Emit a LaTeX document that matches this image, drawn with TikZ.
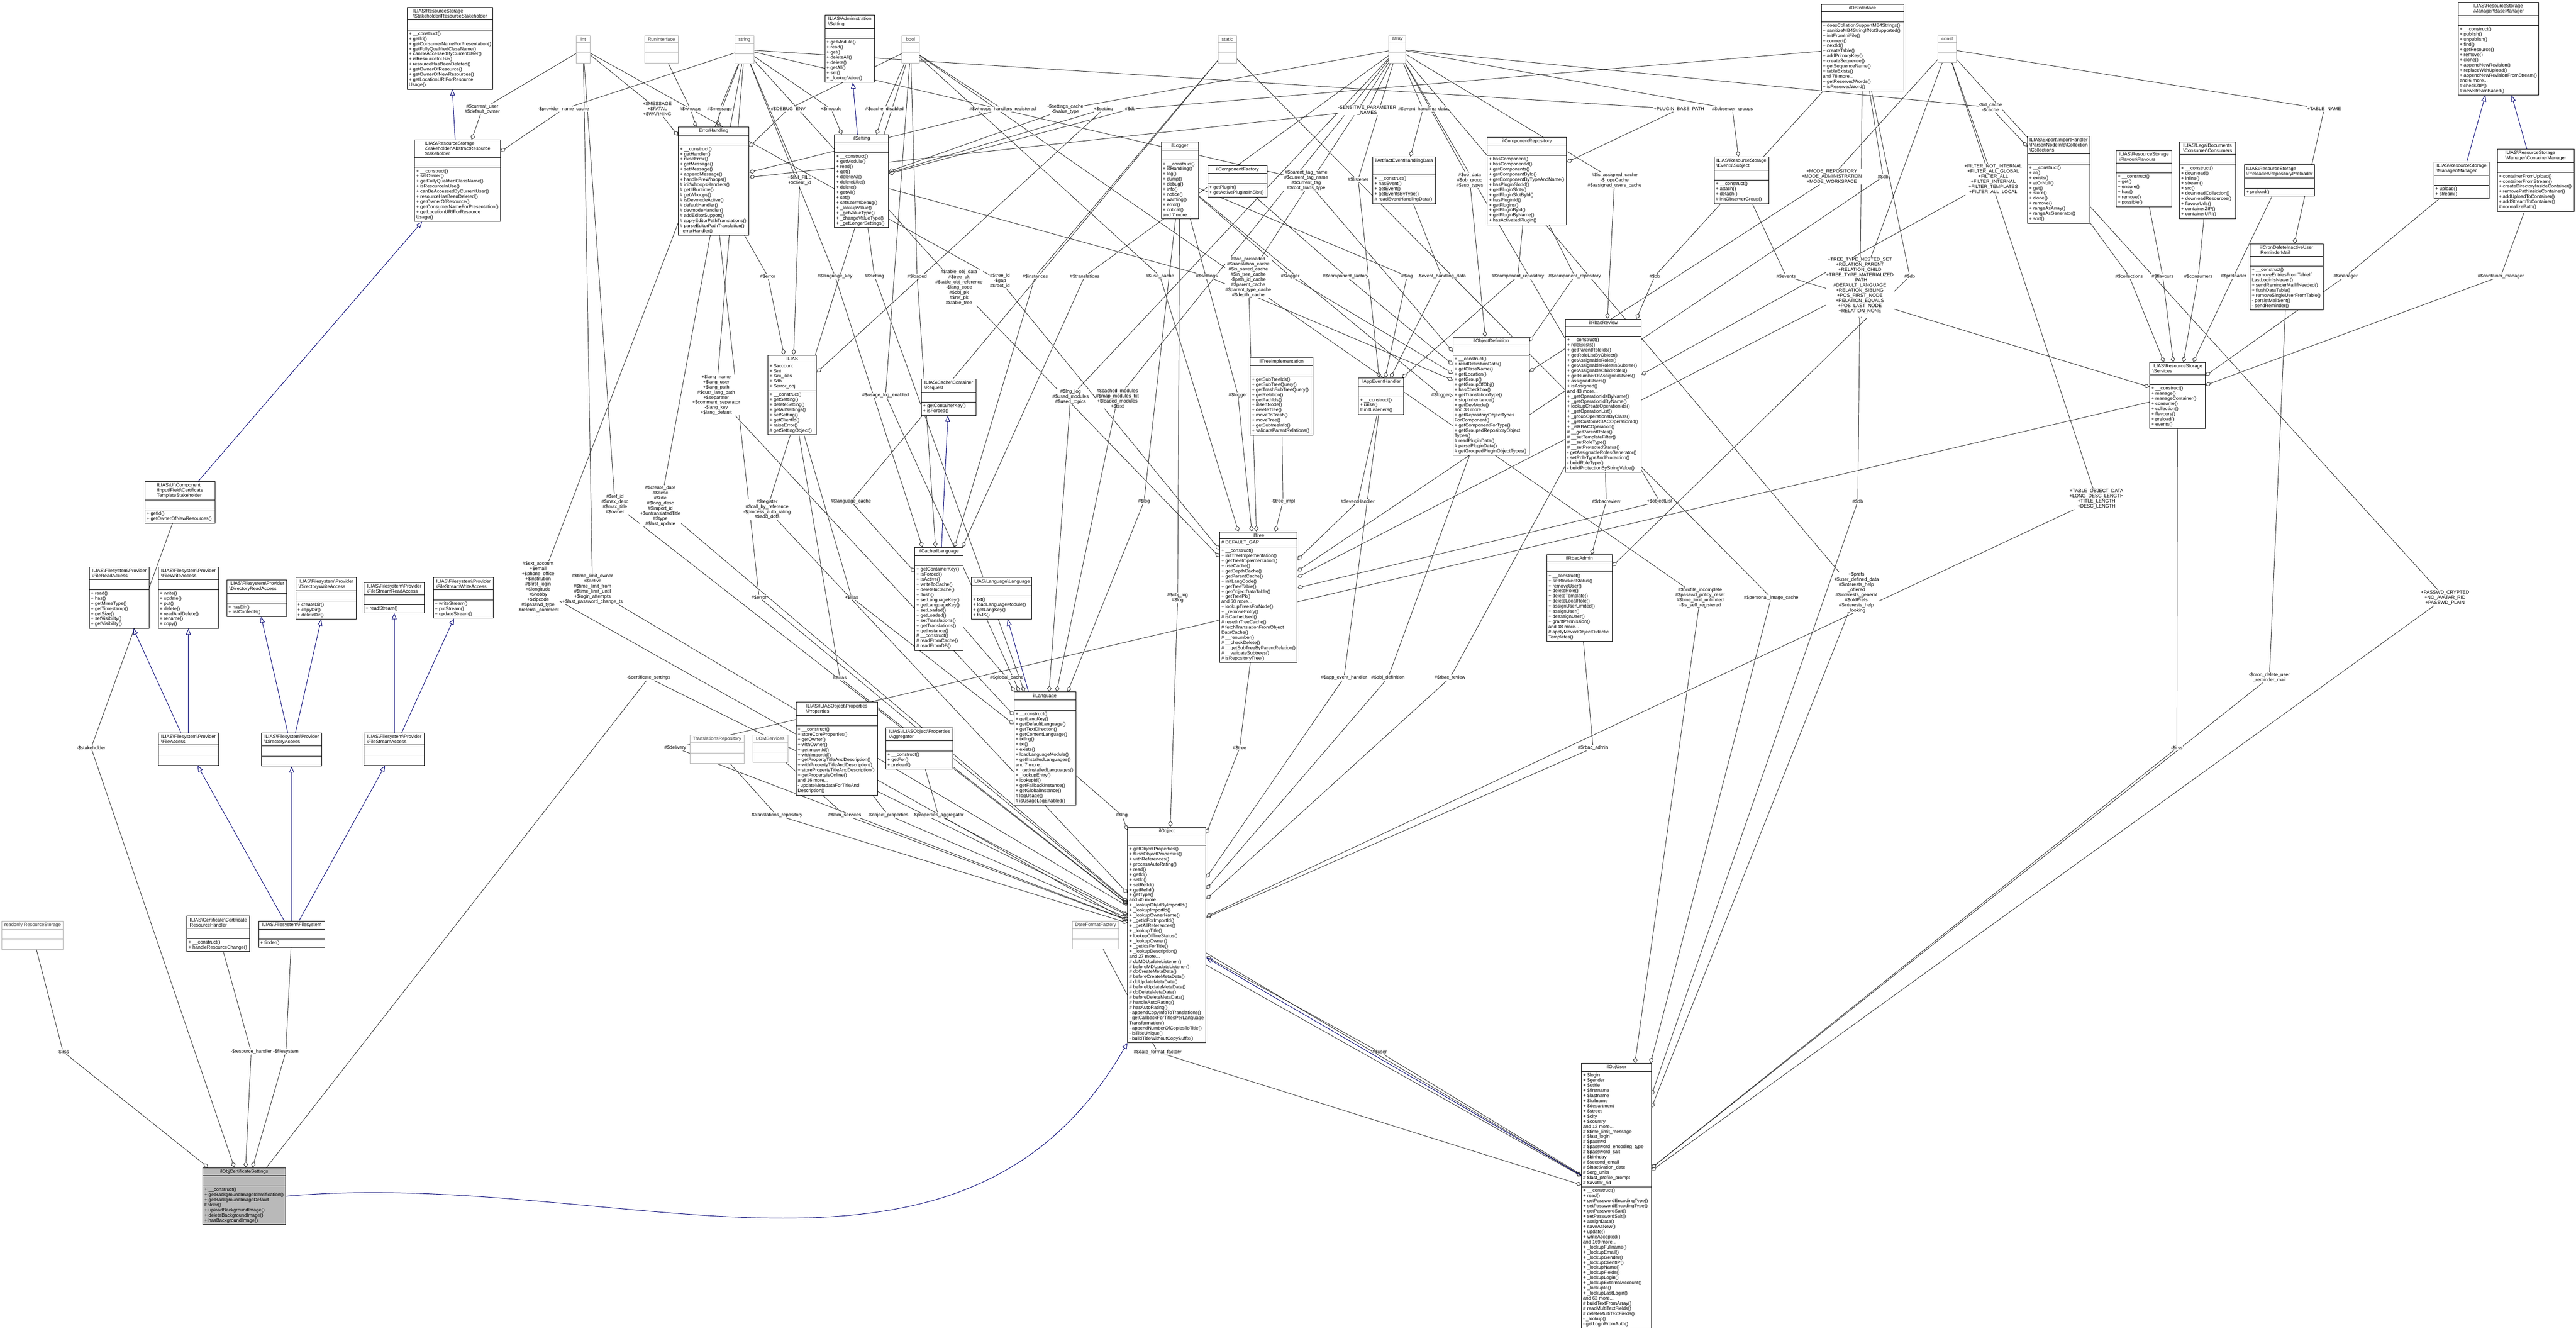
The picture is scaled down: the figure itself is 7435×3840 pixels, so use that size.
\documentclass[tikz,border=0pt]{standalone}
\usepackage{fontspec}
\setmainfont{Liberation Sans}
\usetikzlibrary{arrows.meta,shapes.multipart,backgrounds}
\newcommand{\bsl}{\textbackslash}

\tikzset{
  cls/.style={rectangle split, rectangle split parts=3, draw=black, fill=white,
    anchor=north west, inner sep=1.3pt, line width=0.4pt, align=left,
    rectangle split part align={center,left,left},
    rectangle split empty part height=3.5pt,
    font=\fontsize{3.9}{4.2}\selectfont},
  clsg/.style={cls, draw=gray!60, text=black!80},
  lbl/.style={fill=white, inner sep=0.3pt, align=center, font=\fontsize{3.9}{4.2}\selectfont},
  agg/.style={draw=black!80, line width=0.4pt, -{Diamond[open,length=5pt,width=3.6pt]}},
  inh/.style={draw=blue!45!black, line width=0.4pt, -{Triangle[open,length=5pt,width=4pt]}}
}

\begin{document}
\begin{tikzpicture}[x=0.01cm, y=-0.01cm]
\useasboundingbox (0,0) rectangle (7435,3840);

% top row
\node[cls, minimum width=2.45cm] (resStake) at (1175,21) {ILIAS\bsl ResourceStorage\\\bsl Stakeholder\bsl ResourceStakeholder
  \nodepart{two}
  \nodepart{three}+ \_\_construct()\\+ getId()\\+ getConsumerNameForPresentation()\\+ getFullyQualifiedClassName()\\+ canBeAccessedByCurrentUser()\\+ isResourceInUse()\\+ resourceHasBeenDeleted()\\+ getOwnerOfResource()\\+ getOwnerOfNewResources()\\+ getLocationURIForResource\\Usage()};
\node[clsg, minimum width=0.39cm] (int) at (1663,102) {int\nodepart{two}\nodepart{three}};
\node[clsg, minimum width=0.97cm] (runIf) at (1860,102) {RunInterface\nodepart{two}\nodepart{three}};
\node[clsg, minimum width=0.56cm] (string) at (2120,102) {string\nodepart{two}\nodepart{three}};
\node[cls, minimum width=1.44cm] (adminSetting) at (2380,43) {ILIAS\bsl Administration\\\bsl Setting
  \nodepart{two}
  \nodepart{three}+ getModule()\\+ read()\\+ get()\\+ deleteAll()\\+ delete()\\+ getAll()\\+ set()\\+ \_lookupValue()};
\node[clsg, minimum width=0.51cm] (bool) at (2602,102) {bool\nodepart{two}\nodepart{three}};
\node[clsg, minimum width=0.53cm] (static) at (3515,102) {static\nodepart{two}\nodepart{three}};
\node[clsg, minimum width=0.49cm] (array) at (4008,102) {array\nodepart{two}\nodepart{three}};
\node[cls, minimum width=2.38cm] (dbIf) at (5256,12) {ilDBInterface
  \nodepart{two}
  \nodepart{three}+ doesCollationSupportMB4Strings()\\+ sanitizeMB4StringIfNotSupported()\\+ initFromIniFile()\\+ connect()\\+ nextId()\\+ createTable()\\+ addPrimaryKey()\\+ createSequence()\\+ getSequenceName()\\+ tableExists()\\and 78 more...\\+ getReservedWords()\\+ isReservedWord()};
\node[clsg, minimum width=0.53cm] (const) at (5593,102) {const\nodepart{two}\nodepart{three}};
\node[cls, minimum width=2.32cm] (baseMgr) at (7094,6) {ILIAS\bsl ResourceStorage\\\bsl Manager\bsl BaseManager
  \nodepart{two}
  \nodepart{three}+ \_\_construct()\\+ publish()\\+ unpublish()\\+ find()\\+ getResource()\\+ remove()\\+ clone()\\+ appendNewRevision()\\+ replaceWithUpload()\\+ appendNewRevisionFromStream()\\and 6 more...\\\# checkZIP()\\\# newStreamBased()};

% second row
\node[cls, minimum width=2.47cm] (absStake) at (1196,403) {ILIAS\bsl ResourceStorage\\\bsl Stakeholder\bsl AbstractResource\\Stakeholder
  \nodepart{two}
  \nodepart{three}+ \_\_construct()\\+ setOwner()\\+ getFullyQualifiedClassName()\\+ isResourceInUse()\\+ canBeAccessedByCurrentUser()\\+ resourceHasBeenDeleted()\\+ getOwnerOfResource()\\+ getConsumerNameForPresentation()\\+ getLocationURIForResource\\Usage()};
\node[cls, minimum width=2.04cm] (errHand) at (1957,366) {ErrorHandling
  \nodepart{two}
  \nodepart{three}+ \_\_construct()\\+ getHandler()\\+ raiseError()\\+ getMessage()\\+ setMessage()\\+ appendMessage()\\+ handlePreWhoops()\\\# initWhoopsHandlers()\\\# getIlRuntime()\\\# getWhoops()\\\# isDevmodeActive()\\\# defaultHandler()\\\# devmodeHandler()\\\# addEditorSupport()\\\# applyEditorPathTranslations()\\\# parseEditorPathTranslation()\\- errorHandler()};
\node[cls, minimum width=1.56cm] (ilSetting) at (2408,388) {ilSetting
  \nodepart{two}
  \nodepart{three}+ \_\_construct()\\+ getModule()\\+ read()\\+ get()\\+ deleteAll()\\+ deleteLike()\\+ delete()\\+ getAll()\\+ set()\\+ setScormDebug()\\+ \_lookupValue()\\+ \_getValueType()\\+ \_changeValueType()\\+ \_getLongerSettings()};
\node[cls, minimum width=1.07cm] (ilLogger) at (3351,409) {ilLogger
  \nodepart{two}
  \nodepart{three}+ \_\_construct()\\+ isHandling()\\+ log()\\+ dump()\\+ debug()\\+ info()\\+ notice()\\+ warning()\\+ error()\\+ critical()\\and 7 more...};
\node[cls, minimum width=1.72cm] (compFactory) at (3485,477) {ilComponentFactory
  \nodepart{two}
  \nodepart{three}+ getPlugin()\\+ getActivePluginsInSlot()};
\node[cls, minimum width=1.80cm] (artEvData) at (3962,452) {ilArtifactEventHandlingData
  \nodepart{two}
  \nodepart{three}+ \_\_construct()\\+ hasEvent()\\+ getEvent()\\+ getEventsByType()\\\# readEventHandlingData()};
\node[cls, minimum width=2.29cm] (compRepo) at (4292,395) {ilComponentRepository
  \nodepart{two}
  \nodepart{three}+ hasComponent()\\+ hasComponentId()\\+ getComponents()\\+ getComponentById()\\+ getComponentByTypeAndName()\\+ hasPluginSlotId()\\+ getPluginSlots()\\+ getPluginSlotById()\\+ hasPluginId()\\+ getPlugins()\\+ getPluginById()\\+ getPluginByName()\\+ hasActivatedPlugin()};
\node[cls, minimum width=1.57cm] (evSubject) at (4947,452) {ILIAS\bsl ResourceStorage\\\bsl Events\bsl Subject
  \nodepart{two}
  \nodepart{three}+ \_\_construct()\\+ attach()\\+ detach()\\\# initObserverGroup()};
\node[cls, minimum width=1.80cm] (collections) at (5851,393) {ILIAS\bsl Export\bsl ImportHandler\\\bsl Parser\bsl NodeInfo\bsl Collection\\\bsl Collections
  \nodepart{two}
  \nodepart{three}+ \_\_construct()\\+ at()\\+ exists()\\+ atOrNull()\\+ get()\\+ store()\\+ clone()\\+ remove()\\+ rangeAsArray()\\+ rangeAsGenerator()\\+ sort()};
\node[cls, minimum width=1.60cm] (flavours) at (6107,434) {ILIAS\bsl ResourceStorage\\\bsl Flavour\bsl Flavours
  \nodepart{two}
  \nodepart{three}+ \_\_construct()\\+ get()\\+ ensure()\\+ has()\\+ remove()\\+ possible()};
\node[cls, minimum width=1.62cm] (consumers) at (6290,409) {ILIAS\bsl LegalDocuments\\\bsl Consumer\bsl Consumers
  \nodepart{two}
  \nodepart{three}+ \_\_construct()\\+ download()\\+ inline()\\+ stream()\\+ src()\\+ downloadCollection()\\+ downloadResources()\\+ flavourUrls()\\+ containerZIP()\\+ containerURI()};
\node[cls, minimum width=2.01cm] (preloader) at (6478,475) {ILIAS\bsl ResourceStorage\\\bsl Preloader\bsl RepositoryPreloader
  \nodepart{two}
  \nodepart{three}+ preload()};
\node[cls, minimum width=1.60cm] (manager) at (7024,467) {ILIAS\bsl ResourceStorage\\\bsl Manager\bsl Manager
  \nodepart{two}
  \nodepart{three}+ upload()\\+ stream()};
\node[cls, minimum width=2.22cm] (contMgr) at (7207,430) {ILIAS\bsl ResourceStorage\\\bsl Manager\bsl ContainerManager
  \nodepart{two}
  \nodepart{three}+ containerFromUpload()\\+ containerFromStream()\\+ createDirectoryInsideContainer()\\+ removePathInsideContainer()\\+ addUploadToContainer()\\+ addStreamToContainer()\\\# normalizePath()};
\node[cls, minimum width=2.11cm] (cronDel) at (6494,703) {ilCronDeleteInactiveUser\\ReminderMail
  \nodepart{two}
  \nodepart{three}+ \_\_construct()\\+ removeEntriesFromTableIf\\LastLoginIsNewer()\\+ sendReminderMailIfNeeded()\\+ flushDataTable()\\+ removeSingleUserFromTable()\\- persistMailSent()\\- sendReminder()};

% third row
\node[cls, minimum width=1.40cm] (ilias) at (2216,1024) {ILIAS
  \nodepart{two}+ \$account\\+ \$ini\\+ \$ini\_ilias\\+ \$db\\+ \$error\_obj
  \nodepart{three}+ \_\_construct()\\+ getSetting()\\+ deleteSetting()\\+ getAllSettings()\\+ setSetting()\\+ getClientId()\\+ raiseError()\\\# getSettingObject()};
\node[cls, minimum width=1.57cm] (cacheReq) at (2659,1093) {ILIAS\bsl Cache\bsl Container\\\bsl Request
  \nodepart{two}
  \nodepart{three}+ getContainerKey()\\+ isForced()};
\node[cls, minimum width=1.80cm] (treeImpl) at (3608,1031) {ilTreeImplementation
  \nodepart{two}
  \nodepart{three}+ getSubTreeIds()\\+ getSubTreeQuery()\\+ getTrashSubTreeQuery()\\+ getRelation()\\+ getPathIds()\\+ insertNode()\\+ deleteTree()\\+ moveToTrash()\\+ moveTree()\\+ getSubtreeInfo()\\+ validateParentRelations()};
\node[cls, minimum width=1.31cm] (appEvHand) at (3920,1090) {ilAppEventHandler
  \nodepart{two}
  \nodepart{three}+ \_\_construct()\\+ raise()\\\# initListeners()};
\node[cls, minimum width=2.20cm] (objDef) at (4193,972) {ilObjectDefinition
  \nodepart{two}
  \nodepart{three}+ \_\_construct()\\+ readDefinitionData()\\+ getClassName()\\+ getLocation()\\+ getGroup()\\+ getGroupOfObj()\\+ hasCheckbox()\\+ getTranslationType()\\+ stopInheritance()\\+ getDevMode()\\and 38 more...\\+ getRepositoryObjectTypes\\ForComponent()\\+ getComponentForType()\\+ getGroupedRepositoryObject\\Types()\\\# readPluginData()\\\# parsePluginData()\\\# getGroupedPluginObjectTypes()};
\node[cls, minimum width=2.18cm] (rbacReview) at (4518,920) {ilRbacReview
  \nodepart{two}
  \nodepart{three}+ \_\_construct()\\+ roleExists()\\+ getParentRoleIds()\\+ getRoleListByObject()\\+ getAssignableRoles()\\+ getAssignableRolesInSubtree()\\+ getAssignableChildRoles()\\+ getNumberOfAssignedUsers()\\+ assignedUsers()\\+ isAssigned()\\and 43 more...\\+ \_getOperationIdsByName()\\+ \_getOperationIdByName()\\+ lookupCreateOperationIds()\\+ \_getOperationList()\\+ \_groupOperationsByClass()\\+ \_getCustomRBACOperationId()\\+ \_isRBACOperation()\\\# \_\_getParentRoles()\\\# \_\_setTemplateFilter()\\\# \_\_setRoleType()\\\# \_\_setProtectedStatus()\\- getAssignableRolesGenerator()\\- setRoleTypeAndProtection()\\- buildRoleType()\\- buildProtectionByStringValue()};
\node[cls, minimum width=1.60cm] (services) at (6204,1045) {ILIAS\bsl ResourceStorage\\\bsl Services
  \nodepart{two}
  \nodepart{three}+ \_\_construct()\\+ manage()\\+ manageContainer()\\+ consume()\\+ collection()\\+ flavours()\\+ preload()\\+ events()};

% filesystem group
\node[cls, minimum width=2.02cm] (certTplStake) at (418,1389) {ILIAS\bsl UI\bsl Component\\\bsl Input\bsl Field\bsl Certificate\\TemplateStakeholder
  \nodepart{two}
  \nodepart{three}+ getId()\\+ getOwnerOfNewResources()};
\node[cls, minimum width=1.73cm] (fileRead) at (257,1636) {ILIAS\bsl Filesystem\bsl Provider\\\bsl FileReadAccess
  \nodepart{two}
  \nodepart{three}+ read()\\+ has()\\+ getMimeType()\\+ getTimestamp()\\+ getSize()\\+ setVisibility()\\+ getVisibility()};
\node[cls, minimum width=1.74cm] (fileWrite) at (456,1636) {ILIAS\bsl Filesystem\bsl Provider\\\bsl FileWriteAccess
  \nodepart{two}
  \nodepart{three}+ write()\\+ update()\\+ put()\\+ delete()\\+ readAndDelete()\\+ rename()\\+ copy()};
\node[cls, minimum width=1.73cm] (dirRead) at (654,1673) {ILIAS\bsl Filesystem\bsl Provider\\\bsl DirectoryReadAccess
  \nodepart{two}
  \nodepart{three}+ hasDir()\\+ listContents()};
\node[cls, minimum width=1.74cm] (dirWrite) at (853,1666) {ILIAS\bsl Filesystem\bsl Provider\\\bsl DirectoryWriteAccess
  \nodepart{two}
  \nodepart{three}+ createDir()\\+ copyDir()\\+ deleteDir()};
\node[cls, minimum width=1.74cm] (fsRead) at (1050,1680) {ILIAS\bsl Filesystem\bsl Provider\\\bsl FileStreamReadAccess
  \nodepart{two}
  \nodepart{three}+ readStream()};
\node[cls, minimum width=1.73cm] (fsWrite) at (1250,1666) {ILIAS\bsl Filesystem\bsl Provider\\\bsl FileStreamWriteAccess
  \nodepart{two}
  \nodepart{three}+ writeStream()\\+ putStream()\\+ updateStream()};
\node[cls, minimum width=1.74cm] (fileAcc) at (456,2114) {ILIAS\bsl Filesystem\bsl Provider\\\bsl FileAccess\nodepart{two}\nodepart{three}};
\node[cls, minimum width=1.74cm] (dirAcc) at (754,2114) {ILIAS\bsl Filesystem\bsl Provider\\\bsl DirectoryAccess\nodepart{two}\nodepart{three}};
\node[cls, minimum width=1.74cm] (fsAcc) at (1050,2114) {ILIAS\bsl Filesystem\bsl Provider\\\bsl FileStreamAccess\nodepart{two}\nodepart{three}};

% language, tree, rbac
\node[cls, minimum width=1.39cm] (cachedLang) at (2640,1579) {ilCachedLanguage
  \nodepart{two}
  \nodepart{three}+ getContainerKey()\\+ isForced()\\+ isActive()\\+ writeToCache()\\+ deleteInCache()\\+ flush()\\+ setLanguageKey()\\+ getLanguageKey()\\+ setLoaded()\\+ getLoaded()\\+ setTranslations()\\+ getTranslations()\\+ getInstance()\\\# \_\_construct()\\\# readFromCache()\\\# readFromDB()};
\node[cls, minimum width=1.74cm] (langIf) at (2803,1666) {ILIAS\bsl Language\bsl Language
  \nodepart{two}
  \nodepart{three}+ txt()\\+ loadLanguageModule()\\+ getLangKey()\\+ toJS()};
\node[cls, minimum width=2.23cm] (ilTree) at (3520,1534) {ilTree
  \nodepart{two}\# DEFAULT\_GAP
  \nodepart{three}+ \_\_construct()\\+ initTreeImplementation()\\+ getTreeImplementation()\\+ useCache()\\+ getDepthCache()\\+ getParentCache()\\+ initLangCode()\\+ getTreeTable()\\+ getObjectDataTable()\\+ getTreePk()\\and 60 more...\\+ lookupTreesForNode()\\+ \_removeEntry()\\\# isCacheUsed()\\\# resetInTreeCache()\\\# fetchTranslationFromObject\\DataCache()\\\# \_\_renumber()\\\# \_\_checkDelete()\\\# \_\_getSubTreeByParentRelation()\\\# \_\_validateSubtrees()\\\# isRepositoryTree()};
\node[cls, minimum width=1.88cm] (rbacAdmin) at (4464,1600) {ilRbacAdmin
  \nodepart{two}
  \nodepart{three}+ \_\_construct()\\+ setBlockedStatus()\\+ removeUser()\\+ deleteRole()\\+ deleteTemplate()\\+ deleteLocalRole()\\+ assignUserLimited()\\+ assignUser()\\+ deassignUser()\\+ grantPermission()\\and 18 more...\\\# applyMovedObjectDidactic\\Templates()};
\node[cls, minimum width=2.35cm] (props) at (2297,2026) {ILIAS\bsl ILIASObject\bsl Properties\\\bsl Properties
  \nodepart{two}
  \nodepart{three}+ \_\_construct()\\+ storeCoreProperties()\\+ getOwner()\\+ withOwner()\\+ getImportId()\\+ withImportId()\\+ getPropertyTitleAndDescription()\\+ withPropertyTitleAndDescription()\\+ storePropertyTitleAndDescription()\\+ getPropertyIsOnline()\\and 16 more...\\- updateMetadataForTitleAnd\\Description()};
\node[cls, minimum width=1.94cm] (aggregator) at (2556,2099) {ILIAS\bsl ILIASObject\bsl Properties\\\bsl Aggregator
  \nodepart{two}
  \nodepart{three}+ \_\_construct()\\+ getFor()\\+ preload()};
\node[clsg, minimum width=1.56cm] (transRepo) at (1991,2120) {TranslationsRepository\nodepart{two}\nodepart{three}};
\node[clsg, minimum width=1.01cm] (lomServ) at (2172,2120) {LOMServices\nodepart{two}\nodepart{three}};
\node[cls, minimum width=1.78cm] (ilLanguage) at (2926,1996) {ilLanguage
  \nodepart{two}
  \nodepart{three}+ \_\_construct()\\+ getLangKey()\\+ getDefaultLanguage()\\+ getTextDirection()\\+ getContentLanguage()\\+ txtlng()\\+ txt()\\+ exists()\\+ loadLanguageModule()\\+ getInstalledLanguages()\\and 7 more...\\+ \_getInstalledLanguages()\\+ \_lookupEntry()\\+ lookupId()\\+ getFallbackInstance()\\+ getGlobalInstance()\\\# logUsage()\\\# isUsageLogEnabled()};

% bottom
\node[cls, minimum width=2.26cm] (ilObject) at (3254,2386) {ilObject
  \nodepart{two}
  \nodepart{three}+ getObjectProperties()\\+ flushObjectProperties()\\+ withReferences()\\+ processAutoRating()\\+ read()\\+ getId()\\+ setId()\\+ setRefId()\\+ getRefId()\\+ getType()\\and 40 more...\\+ \_lookupObjIdByImportId()\\+ \_lookupImportId()\\+ \_lookupOwnerName()\\+ \_getIdForImportId()\\+ \_getAllReferences()\\+ \_lookupTitle()\\+ lookupOfflineStatus()\\+ \_lookupOwner()\\+ \_getIdsForTitle()\\+ \_lookupDescription()\\and 27 more...\\\# doMDUpdateListener()\\\# beforeMDUpdateListener()\\\# doCreateMetaData()\\\# beforeCreateMetaData()\\\# doUpdateMetaData()\\\# beforeUpdateMetaData()\\\# doDeleteMetaData()\\\# beforeDeleteMetaData()\\\# handleAutoRating()\\\# hasAutoRating()\\- appendCopyInfoToTranslations()\\- getCallbackForTitlesPerLanguage\\Transformation()\\- appendNumberOfCopiesToTitle()\\- isTitleUnique()\\- buildTitleWithoutCopySuffix()};
\node[clsg, minimum width=1.77cm] (readonlyRS) at (5,2657) {readonly ResourceStorage\nodepart{two}\nodepart{three}};
\node[cls, minimum width=1.81cm] (certResH) at (539,2643) {ILIAS\bsl Certificate\bsl Certificate\\ResourceHandler
  \nodepart{two}
  \nodepart{three}+ \_\_construct()\\+ handleResourceChange()};
\node[cls, minimum width=1.90cm] (filesystem) at (746,2657) {ILIAS\bsl Filesystem\bsl Filesystem
  \nodepart{two}
  \nodepart{three}+ finder()};
\node[cls, fill=gray!55, minimum width=2.38cm] (certSettings) at (585,3369) {ilObjCertificateSettings
  \nodepart{two}
  \nodepart{three}+ \_\_construct()\\+ getBackgroundImageIdentification()\\+ getBackgroundImageDefault\\Folder()\\+ uploadBackgroundImage()\\+ deleteBackgroundImage()\\+ hasBackgroundImage()};
\node[clsg, minimum width=1.33cm] (dateFmt) at (3095,2657) {DateFormatFactory\nodepart{two}\nodepart{three}};
\node[cls, minimum width=2.01cm] (ilObjUser) at (4564,3068) {ilObjUser
  \nodepart{two}+ \$login\\+ \$gender\\+ \$utitle\\+ \$firstname\\+ \$lastname\\+ \$fullname\\+ \$department\\+ \$street\\+ \$city\\+ \$country\\and 12 more...\\\# \$time\_limit\_message\\\# \$last\_login\\\# \$passwd\\\# \$password\_encoding\_type\\\# \$password\_salt\\\# \$birthday\\\# \$second\_email\\\# \$inactivation\_date\\\# \$org\_units\\\# \$last\_profile\_prompt\\\# \$avatar\_rid
  \nodepart{three}+ \_\_construct()\\+ read()\\+ getPasswordEncodingType()\\+ setPasswordEncodingType()\\+ getPasswordSalt()\\+ setPasswordSalt()\\+ assignData()\\+ saveAsNew()\\+ update()\\+ writeAccepted()\\and 169 more...\\+ \_lookupFullname()\\+ \_lookupEmail()\\+ \_lookupGender()\\+ \_lookupClientIP()\\+ \_lookupName()\\+ \_lookupFields()\\+ \_lookupLogin()\\+ \_lookupExternalAccount()\\+ \_lookupId()\\+ \_lookupLastLogin()\\and 62 more...\\\# buildTextFromArray()\\\# readMultiTextFields()\\\# deleteMultiTextFields()\\- \_lookup()\\- getLoginFromAuth()};

% member edges: source / label / x / y / target / text
\foreach \src/\lab/\lx/\ly/\dst/\txt in {
  int/l1/1392/315/absStake/{\#\$current\_user\\\#\$default\_owner},
  string/l2/1626/315/absStake/{-\$provider\_name\_cache},
  int/l3/1897/315/errHand/{+\$MESSAGE\\+\$FATAL\\+\$WARNING},
  runIf/l4/1993/315/errHand/{\#\$whoops},
  string/l5/2077/315/errHand/{\#\$message},
  bool/l6/2275/315/errHand/{\#\$DEBUG\_ENV},
  string/l7/2399/315/ilSetting/{+\$module},
  bool/l8/2553/315/ilSetting/{\#\$cache\_disabled},
  bool/l9/2894/315/errHand/{\#\$whoops\_handlers\_registered},
  array/l10/3075/315/ilSetting/{-\$settings\_cache\\-\$value\_type},
  ilSetting/l11/3185/315/ilias/{+\$setting},
  dbIf/l12/3262/315/ilSetting/{\#\$db},
  array/l13/3946/318/errHand/{-SENSITIVE\_PARAMETER\\\_NAMES},
  array/l14/4107/315/artEvData/{\#\$event\_handling\_data},
  string/l15/4846/315/compRepo/{+PLUGIN\_BASE\_PATH},
  array/l16/5000/315/evSubject/{\#\$observer\_groups},
  array/l17/5745/310/collections/{-\$id\_cache\\-\$cache},
  const/l18/6708/315/cronDel/{+TABLE\_NAME},
  string/l19/2308/520/ilias/{+\$INI\_FILE\\+\$client\_id},
  errHand/l20/2216/797/ilias/{\#\$error},
  string/l21/2410/797/cachedLang/{\#\$language\_key},
  ilSetting/l22/2524/797/ilLanguage/{\#\$setting},
  bool/l23/2647/797/cachedLang/{\#\$loaded},
  string/l24/2768/830/ilTree/{\#\$table\_obj\_data\\\#\$tree\_pk\\\#\$table\_obj\_reference\\-\$lang\_code\\\#\$obj\_pk\\\#\$ref\_pk\\\#\$table\_tree},
  int/l25/2886/810/ilTree/{\#\$tree\_id\\-\$gap\\\#\$root\_id},
  static/l26/2988/797/cachedLang/{\#\$instances},
  array/l27/3131/797/cachedLang/{\#\$translations},
  bool/l28/3348/797/ilTree/{\#\$use\_cache},
  ilSetting/l29/3483/797/objDef/{\#\$settings},
  array/l30/3603/800/ilTree/{\#\$oc\_preloaded\\\#\$translation\_cache\\\#\$is\_saved\_cache\\\#\$in\_tree\_cache\\-\$path\_id\_cache\\\#\$parent\_cache\\\#\$parent\_type\_cache\\\#\$depth\_cache},
  ilLogger/l31/3724/797/objDef/{\#\$logger},
  compFactory/l32/3884/797/objDef/{\#\$component\_factory},
  ilLogger/l33/4061/797/appEvHand/{\#\$log},
  artEvData/l34/4161/797/appEvHand/{-\$event\_handling\_data},
  compRepo/l35/4381/797/appEvHand/{\#\$component\_repository},
  compRepo/l36/4545/797/objDef/{\#\$component\_repository},
  dbIf/l37/4776/797/rbacReview/{\#\$db},
  string/l38/3770/520/objDef/{\#\$parent\_tag\_name\\\#\$current\_tag\_name\\\#\$current\_tag\\\#\$root\_trans\_type},
  array/l39/3920/518/appEvHand/{\#\$listener},
  array/l40/4242/520/objDef/{\#\$ob\_data\\\#\$ob\_group\\\#\$sub\_types},
  array/l41/4660/520/rbacReview/{\#\$is\_assigned\_cache\\-\$\_opsCache\\\#\$assigned\_users\_cache},
  const/l42/5287/510/objDef/{+MODE\_REPOSITORY\\+MODE\_ADMINISTRATION\\+MODE\_WORKSPACE},
  dbIf/l43/5435/510/ilTree/{\#\$db},
  const/l44/5753/518/rbacReview/{+FILTER\_NOT\_INTERNAL\\+FILTER\_ALL\_GLOBAL\\+FILTER\_ALL\\+FILTER\_INTERNAL\\+FILTER\_TEMPLATES\\+FILTER\_ALL\_LOCAL},
  evSubject/l45/5155/797/services/{\#\$events},
  const/l46/5368/830/ilTree/{+TREE\_TYPE\_NESTED\_SET\\+RELATION\_PARENT\\+RELATION\_CHILD\\+TREE\_TYPE\_MATERIALIZED\\\_PATH\\\#DEFAULT\_LANGUAGE\\+RELATION\_SIBLING\\+POS\_FIRST\_NODE\\+RELATION\_EQUALS\\+POS\_LAST\_NODE\\+RELATION\_NONE\\...},
  dbIf/l47/5512/797/rbacAdmin/{\#\$db},
  collections/l48/6145/797/services/{\#\$collections},
  flavours/l49/6242/797/services/{\#\$flavours},
  consumers/l50/6345/797/services/{\#\$consumers},
  preloader/l51/6447/797/services/{\#\$preloader},
  manager/l52/6770/797/services/{\#\$manager},
  contMgr/l53/7218/797/services/{\#\$container\_manager},
  cachedLang/l54/2906/1956/ilLanguage/{\#\$global\_cache},
  array/l55/3090/1145/ilLanguage/{\#\$lng\_log\\\#\$used\_modules\\\#\$used\_topics},
  array/l56/3225/1150/ilLanguage/{\#\$cached\_modules\\\#\$map\_modules\_txt\\+\$loaded\_modules\\+\$text},
  bool/l57/2556/1140/ilLanguage/{\#\$usage\_log\_enabled},
  ilLogger/l58/3573/1140/ilTree/{\#\$logger},
  ilLogger/l59/4158/1140/objDef/{\#\$logger},
  string/l60/2067/1140/ilLanguage/{+\$lang\_name\\+\$lang\_user\\+\$lang\_path\\\#\$cust\_lang\_path\\+\$separator\\+\$comment\_separator\\-\$lang\_key\\+\$lang\_default},
  ilLogger/l61/3302/1447/ilLanguage/{\#\$log},
  ilLogger/l62/3399/1725/ilObject/{\#\$obj\_log\\\#\$log},
  treeImpl/l63/3703/1447/ilTree/{-\$tree\_impl},
  appEvHand/l64/3919/1447/ilTree/{\#\$eventHandler},
  rbacReview/l65/4636/1447/rbacAdmin/{\#\$rbacreview},
  array/l66/4790/1447/ilTree/{+\$objectList},
  appEvHand/l67/3879/1956/ilObject/{\#\$app\_event\_handler},
  objDef/l68/4006/1956/ilObject/{\#\$obj\_definition},
  rbacReview/l69/4185/1956/ilObject/{\#\$rbac\_review},
  ilTree/l70/3578/2158/ilObject/{\#\$tree},
  rbacAdmin/l71/4598/2158/ilObject/{\#\$rbac\_admin},
  bool/l72/4907/1725/ilObjUser/{\#\$profile\_incomplete\\\#\$passwd\_policy\_reset\\\#\$time\_limit\_unlimited\\-\$is\_self\_registered},
  ilLanguage/l73/3238/2353/ilObject/{\#\$lng},
  props/l74/2563/2352/ilObject/{-\$object\_properties},
  aggregator/l75/2708/2352/ilObject/{-\$properties\_aggregator},
  lomServ/l76/2438/2352/ilObject/{\#\$lom\_services},
  transRepo/l77/2241/2352/ilObject/{-\$translations\_repository},
  services/l78/1949/2158/ilObject/{\#\$delivery},
  certSettings/l79/1872/1956/ilObject/{-\$certificate\_settings},
  ilias/l80/2424/1956/ilObject/{\#\$ilias},
  ilias/l81/2458/1724/ilLanguage/{+\$ilias},
  errHand/l82/2191/1724/ilObject/{\#\$error},
  static/l83/2456/1447/cachedLang/{\#\$language\_cache},
  bool/l84/2214/1470/ilObject/{\#\$register\\\#\$call\_by\_reference\\-\$process\_auto\_rating\\\#\$add\_dots},
  string/l85/1906/1460/ilObject/{\#\$create\_date\\\#\$desc\\\#\$title\\\#\$long\_desc\\\#\$import\_id\\+\$untranslatedTitle\\\#\$type\\\#\$last\_update},
  int/l86/1775/1455/ilObject/{\#\$ref\_id\\\#\$max\_desc\\\#\$max\_title\\\#\$owner},
  string/l87/1553/1700/ilObjUser/{\#\$ext\_account\\+\$email\\+\$phone\_office\\+\$institution\\\#\$first\_login\\+\$longitude\\+\$hobby\\+\$zipcode\\\#\$passwd\_type\\-\$referral\_comment\\...},
  int/l88/1710/1700/ilObjUser/{\#\$time\_limit\_owner\\+\$active\\\#\$time\_limit\_from\\\#\$time\_limit\_until\\+\$login\_attempts\\+\$last\_password\_change\_ts},
  array/l89/5358/1710/ilObjUser/{+\$prefs\\+\$user\_defined\_data\\\#\$interests\_help\\\_offered\\\#\$interests\_general\\\#\$oldPrefs\\\#\$interests\_help\\\_looking},
  static/l90/5112/1725/ilObjUser/{\#\$personal\_image\_cache},
  dbIf/l91/5362/1447/ilObjUser/{\#\$db},
  const/l92/6051/1440/ilObject/{+TABLE\_OBJECT\_DATA\\+LONG\_DESC\_LENGTH\\+TITLE\_LENGTH\\+DESC\_LENGTH},
  services/l93/6283/2158/ilObjUser/{-\$irss},
  cronDel/l94/6550/1955/ilObjUser/{-\$cron\_delete\_user\\\_reminder\_mail},
  const/l95/7057/1725/ilObjUser/{+PASSWD\_CRYPTED\\+NO\_AVATAR\_RID\\+PASSWD\_PLAIN},
  dateFmt/l96/3341/3036/ilObjUser/{\#\$date\_format\_factory},
  ilObjUser/l97/3982/3036/ilObject/{\#\$user},
  readonlyRS/l98/182/3035/certSettings/{-\$irss},
  certTplStake/l99/263/2158/certSettings/{-\$stakeholder},
  certResH/l100/725/3035/certSettings/{-\$resource\_handler},
  filesystem/l101/825/3035/certSettings/{-\$filesystem}} {
  \node[lbl] (\lab) at (\lx,\ly) {\txt};
  \begin{scope}[on background layer]
    \draw[agg] (\src) -- (\lab) -- (\dst);
  \end{scope}
}

% inheritance
\foreach \child/\parent in {absStake/resStake, certTplStake/absStake,
  fileAcc/fileRead, fileAcc/fileWrite, dirAcc/dirRead, dirAcc/dirWrite,
  fsAcc/fsRead, fsAcc/fsWrite, filesystem/fileAcc, filesystem/dirAcc,
  filesystem/fsAcc, ilSetting/adminSetting, cachedLang/cacheReq,
  ilLanguage/langIf, ilObjUser/ilObject, manager/baseMgr, contMgr/baseMgr} {
  \draw[inh] (\child) -- (\parent);
}
\draw[inh] (certSettings.east) to[out=5, in=-120] (ilObject.south west);

\end{tikzpicture}
\end{document}
